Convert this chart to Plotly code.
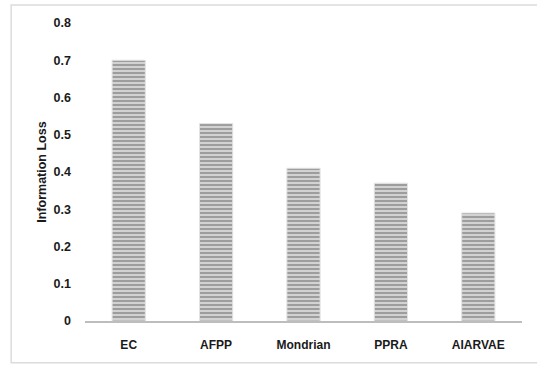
import plotly.graph_objects as go

methods = ["EC", "AFPP", "Mondrian", "PPRA", "AIARVAE"]
info_loss = [0.70, 0.53, 0.41, 0.37, 0.29]
y_ticks = [0, 0.1, 0.2, 0.3, 0.4, 0.5, 0.6, 0.7, 0.8]
y_tick_text = ["0", "0.1", "0.2", "0.3", "0.4", "0.5", "0.6", "0.7", "0.8"]
y_title = "Information Loss"

FONT = "Liberation Sans"
TEXT_COLOR = "#1a1a1a"

fig = go.Figure(
    go.Bar(
        x=methods,
        y=info_loss,
        width=0.38,
        marker=dict(
            color="#c9c9c9",
            line=dict(color="#e2e2e2", width=1),
            pattern=dict(
                shape="-",
                size=4,
                solidity=0.5,
                fgcolor="#9d9d9d",
                bgcolor="#d2d2d2",
                fillmode="replace",
            ),
        ),
        hoverinfo="x+y",
    )
)

# light frame around the whole chart
fig.add_shape(
    type="rect",
    xref="paper", yref="paper",
    x0=-0.169, x1=1.06, y0=-0.14, y1=1.06,
    line=dict(color="#dcdcdc", width=1.5),
    fillcolor="rgba(0,0,0,0)",
    layer="below",
)

# rotated y-axis title, bold
fig.add_annotation(
    text=f"<b>{y_title}</b>",
    xref="paper", yref="paper",
    x=-0.099, y=0.5,
    xanchor="center", yanchor="middle",
    textangle=-90,
    showarrow=False,
    font=dict(family=FONT, size=12.5, color=TEXT_COLOR),
)

fig.update_layout(
    width=537,
    height=365,
    margin=dict(l=85, r=15, t=23, b=44),
    paper_bgcolor="white",
    plot_bgcolor="white",
    showlegend=False,
    font=dict(family=FONT, size=12, color=TEXT_COLOR),
    xaxis=dict(
        showgrid=False,
        showline=True,
        linecolor="#bdbdbd",
        linewidth=1.5,
        ticks="",
        ticklabelstandoff=12,
        tickfont=dict(family=FONT, size=12, color=TEXT_COLOR, weight="bold"),
    ),
    yaxis=dict(
        range=[0, 0.8],
        tickvals=y_ticks,
        ticktext=y_tick_text,
        showgrid=False,
        showline=False,
        zeroline=False,
        ticks="",
        ticklabelstandoff=13,
        tickfont=dict(family=FONT, size=12.5, color=TEXT_COLOR, weight="bold"),
    ),
)

fig.write_html("out.html")
